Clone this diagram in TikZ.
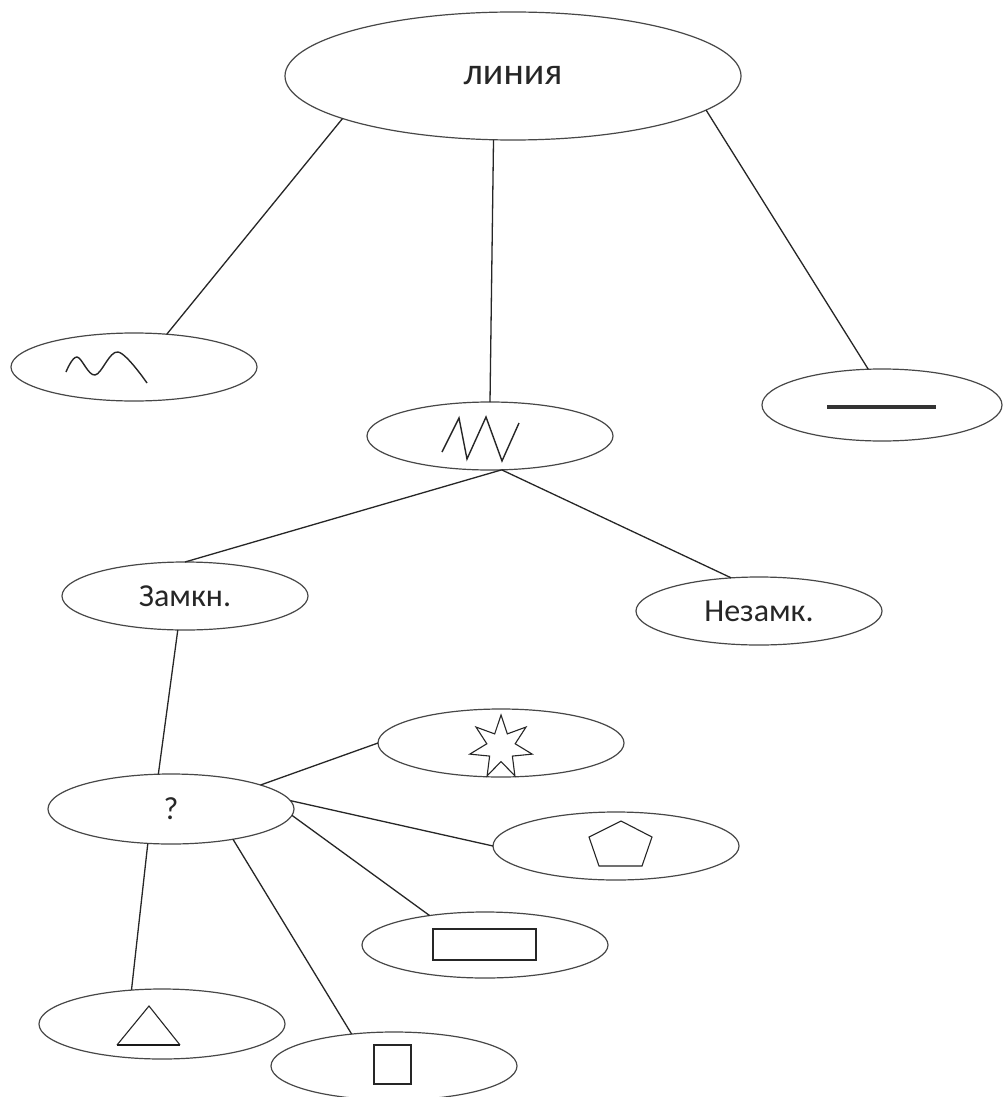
\documentclass[tikz,border=0pt]{standalone}
\usepackage{fontspec}
\setmainfont{Carlito}
\usetikzlibrary{shapes.geometric}
\begin{document}
\begin{tikzpicture}[x=1pt,y=-1pt,
  ell/.style={ellipse, draw=black!72, line width=1.2pt, inner sep=0pt, outer sep=0pt,
    minimum width=246pt, minimum height=68pt, font=\fontsize{32}{36}\selectfont, text=black!85},
  conn/.style={draw=black!85, line width=1.3pt},
  glyph/.style={draw=black!85, line width=1.4pt, line join=miter}]
\fill[white] (0,0) rectangle (1005,1097);
\useasboundingbox (0,0) rectangle (1005,1097);
% nodes
\node[ell, minimum width=456pt, minimum height=128pt, font=\fontsize{38}{42}\selectfont] (root) at (513,76) {линия};
\node[ell] (wave) at (134,367) {};
\node[ell] (zig) at (490,436) {};
\node[ell, minimum width=240pt, minimum height=72pt] (straight) at (882,405) {};
\node[ell] (closed) at (185,596) {Замкн.};
\node[ell] (open) at (759,611) {Незамк.};
\node[ell, minimum height=70pt] (q) at (171,809) {?};
\node[ell] (star) at (501,743) {};
\node[ell] (pent) at (616,846) {};
\node[ell, minimum height=66pt] (rect) at (485,945) {};
\node[ell, minimum height=70pt] (tri) at (162,1024) {};
\node[ell] (sq) at (394,1066) {};
% connectors
\draw[conn] (root.194) -- (wave.45);
\draw[conn] (root.253) -- (zig.90);
\draw[conn] (root.350) -- (straight.111);
\draw[conn] (zig.289) -- (closed.90);
\draw[conn] (zig.289) -- (open.130);
\draw[conn] (closed.258) -- (q.110);
\draw[conn] (q.15) -- (star.180);
\draw[conn] (q.4) -- (pent.180);
\draw[conn] (q.-3) -- (rect.152);
\draw[conn] (q.334) -- (sq.143);
\draw[conn] (q.236) -- (tri.132);
% glyphs inside the ellipses
\draw[glyph, line join=round] plot[smooth, tension=0.6] coordinates {(66,372) (77,357) (95,375) (118,352) (147,383)};
\draw[glyph] (442,452) -- (459,418) -- (467,459) -- (486,417) -- (502,461) -- (519,423);
\draw[draw=black!80, line width=4pt] (827,407) -- (936,407);
\node[star, star points=7, star point ratio=2.2, draw=black!85, line width=1.1pt, minimum size=64pt, inner sep=0pt] (starg) at (501,747) {};
\draw[glyph, line width=1.1pt] (621,821) -- (652,837) -- (642,866) -- (599,866) -- (589,837) -- cycle;
\draw[glyph, line width=1.1pt] (433,929) rectangle (536,960);
\draw[glyph, line width=1.1pt] (374,1045) rectangle (411,1084);
\draw[glyph, line width=1.1pt] (117,1045) -- (149,1006) -- (180,1045);
\draw[draw=black!90, line width=2pt] (117,1045) -- (180,1045);
\end{tikzpicture}
\end{document}
